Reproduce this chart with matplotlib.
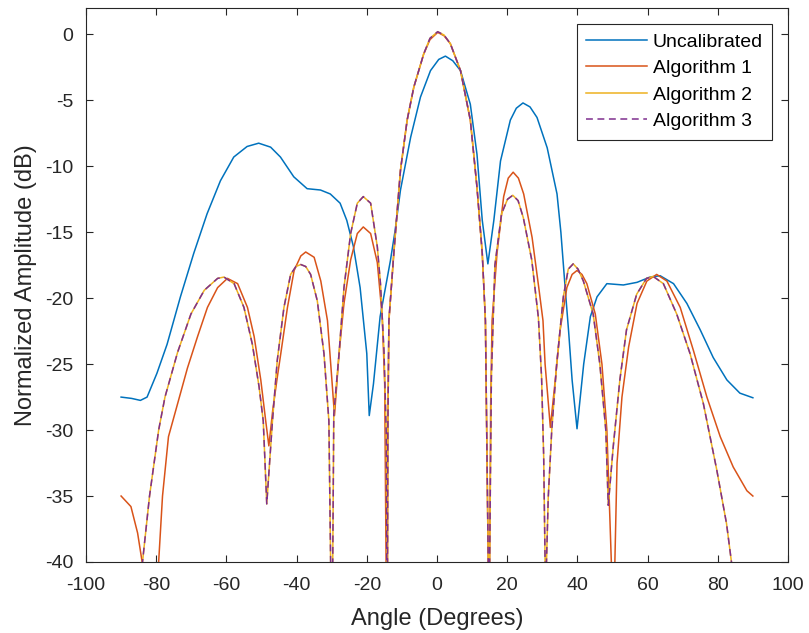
import matplotlib
matplotlib.use("Agg")
import matplotlib.pyplot as plt

plt.rcParams["font.family"] = ["Liberation Sans", "DejaVu Sans"]
plt.rcParams["axes.unicode_minus"] = False  # plain hyphens like the original

# values (angle in degrees, amplitude in dB)
ang_unc = [-90, -87, -84.5, -82.6, -79.8, -76.9, -73.1, -69.3, -65.5, -61.7, -57.9, -54.1,
           -50.8, -47.4, -44.6, -40.8, -37.0, -33.2, -30.4, -27.6, -25.7, -23.8, -21.9, -20.0,
           -19.3, -18.1, -16.2, -13.3, -12.0, -10.4, -7.5, -4.7, -1.85, 0.5, 2.4, 4.5, 6.7,
           9.5, 11.4, 12.9, 14.5, 16.2, 18.1, 20.9, 22.6, 24.5, 26.5, 28.5, 31.4, 34.2, 35.3,
           36.6, 37.5, 38.5, 39.9, 41.8, 43.7, 45.6, 48.4, 53.1, 57.0, 60.7, 63.6, 67.4, 71.2,
           75.0, 78.7, 82.6, 86.3, 90]
unc = [-27.5, -27.6, -27.75, -27.5, -25.7, -23.5, -19.9, -16.6, -13.6, -11.1, -9.3, -8.5,
       -8.25, -8.55, -9.3, -10.8, -11.7, -11.8, -12.1, -12.8, -14.1, -16.1, -19.2, -24.2,
       -28.9, -26.5, -21.4, -17.2, -15.0, -11.8, -7.8, -4.75, -2.75, -1.9, -1.65, -2.0, -2.75,
       -5.3, -9.1, -14.1, -17.4, -14.1, -9.6, -6.5, -5.6, -5.2, -5.5, -6.3, -8.6, -12.1, -15.0,
       -19.5, -22.5, -26.2, -29.9, -25.0, -21.4, -19.9, -18.9, -19.0, -18.8, -18.4, -18.3, -18.9, -20.4,
       -22.4, -24.5, -26.2, -27.2, -27.55]

ang_a1 = [-90, -87.2, -85.3, -84.0, -81.5, -79.3, -78.2, -76.5, -73.9, -71.1, -68.2, -65.4,
          -62.5, -59.7, -56.8, -54.0, -52.1, -50.2, -48.8, -47.9, -46.8, -45.5, -44.5, -42.6,
          -40.7, -38.8, -37.4, -35.0, -33.1, -31.2, -29.8, -29.2, -27.9, -26.5, -24.6, -22.7,
          -21.0, -18.9, -17.0, -15.6, -14.9, -14.5, -14.3, -14.1, -14.0, -13.7, -12.3, -10.4,
          -8.5, -6.6, -3.8, -2.0, 0.2, 2.0, 3.8, 6.7, 9.5, 11.4, 12.9, 13.8, 14.6, 14.8, 15.0,
          15.3, 15.7, 17.1, 19.0, 20.3, 21.7, 23.2, 24.7, 27.1, 29.0, 30.2, 30.8, 32.3, 33.7,
          35.1, 37.0, 38.5, 39.9, 41.3, 42.7, 45.1, 47.0, 48.4, 49.3, 49.8, 50.2, 50.6, 51.3,
          52.7, 54.6, 57.0, 59.8, 62.6, 65.5, 69.3, 73.1, 76.9, 80.7, 84.4, 88.3, 90]
alg1 = [-35.0, -35.8, -37.8, -40.0, -50, -40.0, -35.0, -30.5, -28.0, -25.3, -22.9, -20.7,
        -19.2, -18.5, -18.9, -20.7, -22.9, -26.2, -29.3, -31.2, -28.5, -26.0, -24.2, -20.7,
        -17.9, -16.8, -16.5, -16.9, -18.7, -21.7, -26.7, -28.9, -24.2, -20.4, -17.1, -15.1,
        -14.6, -15.1, -17.3, -21.4, -26.5, -40.0, -55, -40, -30, -21.7, -16.6, -10.3,
        -6.5, -4.0, -1.5, -0.4, 0.15, -0.1, -0.7, -2.75, -6.5, -11.6, -16.6, -21.7, -40, -55, -40,
        -28, -21.7, -16.6, -12.3, -10.9, -10.45, -10.9, -12.1, -15.4, -19.2, -21.7, -25.0, -29.8, -26.2,
        -22.4, -19.2, -18.2, -17.9, -18.2, -18.9, -21.2, -25.0, -30.0, -37.0, -41, -50, -41, -32.5,
        -27.5, -23.7, -20.4, -18.7, -18.2, -18.7, -20.7, -24.0, -27.5, -30.5, -32.8, -34.6, -35.0]

# Algorithm 2 and Algorithm 3 overlap in the picture
ang_a23 = [-90, -83.9, -81.9, -79.3, -77.5, -73.9, -70.1, -66.3, -62.5, -60.7, -57.8, -55.0,
           -52.6, -50.7, -49.5, -48.5, -46.9, -45.5, -43.6, -41.7, -40.2, -38.8, -37.4, -36.0,
           -34.1, -32.2, -30.8, -30.3, -30.0, -29.7, -29.4, -27.9, -26.5, -24.6, -22.7, -21.0,
           -18.9, -17.0, -16.1, -15.1, -14.45, -14.3, -14.2, -14.1, -14.0, -13.7, -12.3, -10.4,
           -8.5, -6.6, -3.8, -2.0, 0.2, 2.0, 3.8, 6.7, 9.5, 11.4, 12.9, 13.8, 14.6, 14.8, 15.0,
           15.5, 16.5, 18.4, 20.1, 21.6, 23.1, 24.6, 27.0, 28.9, 29.8, 30.4, 30.8, 31.0, 31.2,
           31.7, 32.7, 34.1, 36.0, 37.4, 38.8, 40.2, 41.7, 44.5, 46.4, 48.1, 48.8, 50.2, 52.1,
           54.0, 56.9, 59.7, 61.6, 64.5, 68.3, 72.1, 75.9, 79.7, 82.5, 83.9, 87, 90]
alg23 = [-52, -40.0, -35.0, -30.0, -27.5, -24.1, -21.2, -19.4, -18.5, -18.4, -18.9, -20.7,
         -23.5, -26.7, -29.3, -35.6, -29.4, -24.7, -20.7, -18.2, -17.6, -17.45, -17.6, -18.2,
         -20.2, -24.2, -29.3, -40, -55, -40, -28.8, -24.2, -19.2, -15.1, -12.8, -12.3,
         -12.8, -16.1, -18.9, -24.0, -30.3, -40, -55, -40, -30, -21.7, -16.6, -10.3,
         -6.5, -4.0, -1.5, -0.3, 0.2, -0.05, -0.7, -2.75, -6.5, -11.6, -16.6, -21.7, -40, -55, -40,
         -26, -17.5, -13.6, -12.5, -12.2, -12.6, -13.9, -17.1, -21.5, -26, -32, -40, -50, -40,
         -35.1, -30.0, -25.0, -19.9, -17.8, -17.4, -17.8, -18.7, -21.2, -25.0, -30.0, -35.7, -31.3, -26.2,
         -22.4, -19.7, -18.5, -18.35, -18.9, -21.2, -24.2, -28.0, -33.0, -37.1, -40, -46, -52]

axis_col = "#262626"

fig = plt.figure(figsize=(8.09, 6.33), dpi=100)
ax = fig.add_axes([0.1063, 0.1122, 0.8677, 0.8752])

ax.plot(ang_unc, unc, color="#0072BD", lw=1.1, label="Uncalibrated")
ax.plot(ang_a1, alg1, color="#D95319", lw=1.1, label="Algorithm 1")
ax.plot(ang_a23, alg23, color="#EDB120", lw=1.1, label="Algorithm 2")
ax.plot(ang_a23, alg23, color="#7E2F8E", lw=1.1, dashes=(4.5, 3), label="Algorithm 3")

ax.set_xlim(-100, 100)
ax.set_ylim(-40, 2)
ax.set_xticks(range(-100, 101, 20))
ax.set_yticks(range(-40, 1, 5))
ax.tick_params(direction="in", length=5, width=0.8, colors=axis_col, labelsize=14,
               top=True, right=True)
ax.tick_params(axis="x", pad=11)
ax.tick_params(axis="y", pad=9)
for s in ax.spines.values():
    s.set_color(axis_col)
    s.set_linewidth(0.8)

ax.set_xlabel("Angle (Degrees)", fontsize=17, color=axis_col, labelpad=10)
ax.set_ylabel("Normalized Amplitude (dB)", fontsize=17, color=axis_col, labelpad=6)

leg = ax.legend(loc="upper right", fontsize=14, fancybox=False, framealpha=1,
                edgecolor=axis_col, handlelength=3.1, handletextpad=0.3,
                labelspacing=0.45, borderaxespad=0.8, borderpad=0.5)
leg.get_frame().set_linewidth(0.8)

fig.savefig("out.png", dpi=100)
